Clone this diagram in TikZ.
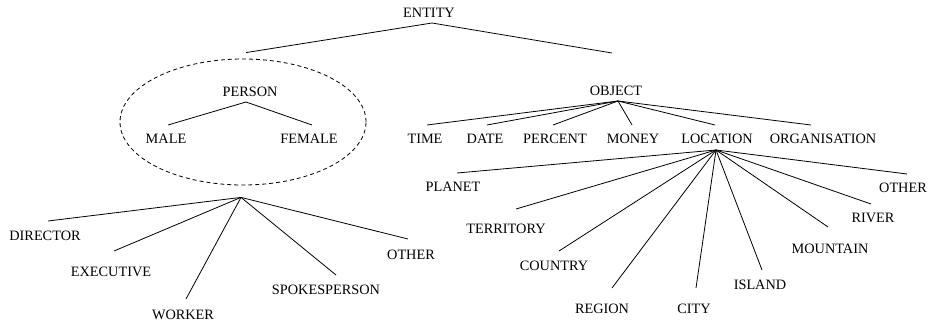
\documentclass[tikz,border=0pt]{standalone}
\usepackage{fontspec}
\setmainfont{Liberation Serif}
\usetikzlibrary{shapes.geometric}
\begin{document}
\begin{tikzpicture}[x=1pt,y=1pt,
  lbl/.style={inner sep=0pt, anchor=base, font=\fontsize{14.3pt}{16pt}\selectfont},
  link/.style={line width=0.8pt},
  grp/.style={ellipse, draw, dashed, dash pattern=on 4pt off 3pt, line width=0.8pt,
              minimum width=246pt, minimum height=126pt, inner sep=0pt}]
\useasboundingbox (0,0) rectangle (928,324);

% top level
\node[lbl] (entity) at (429,306) {ENTITY};
\node[grp] (group) at (243,202) {};
\node[lbl] (person) at (250,227) {PERSON};
\node[lbl] (object) at (616,228) {OBJECT};

% second level
\node[lbl] (male) at (166,180) {MALE};
\node[lbl] (female) at (309,180) {FEMALE};
\node[lbl] (time) at (425,180) {TIME};
\node[lbl] (date) at (485,180) {DATE};
\node[lbl] (percent) at (555,180) {PERCENT};
\node[lbl] (money) at (633,180) {MONEY};
\node[lbl] (location) at (717,180) {LOCATION};
\node[lbl] (organisation) at (823,180) {ORGANISATION};

% person roles
\node[lbl] (director) at (45,84) {DIRECTOR};
\node[lbl] (executive) at (111,48) {EXECUTIVE};
\node[lbl] (worker) at (183,5) {WORKER};
\node[lbl] (spokesperson) at (326,30) {SPOKESPERSON};
\node[lbl] (otherp) at (411,65) {OTHER};

% location kinds
\node[lbl] (planet) at (453,132) {PLANET};
\node[lbl] (territory) at (506,90) {TERRITORY};
\node[lbl] (country) at (554,54) {COUNTRY};
\node[lbl] (region) at (602,11) {REGION};
\node[lbl] (city) at (694,11) {CITY};
\node[lbl] (island) at (760,35) {ISLAND};
\node[lbl] (mountain) at (830,71) {MOUNTAIN};
\node[lbl] (river) at (873,101) {RIVER};
\node[lbl] (otherl) at (903,131) {OTHER};

% branching points
\coordinate (ea) at ([shift={(3pt,-5pt)}]entity.base);
\coordinate (pa) at ([shift={(-4pt,-5pt)}]person.base);
\coordinate (oa) at ([shift={(2pt,-5pt)}]object.base);
\coordinate (la) at ([shift={(-1pt,-6pt)}]location.base);
\coordinate (ga) at ([shift={(-2pt,-12pt)}]group.south);
\coordinate (gtop) at ([shift={(3pt,6pt)}]group.north);
\coordinate (otop) at (612,271);

% connectors
\draw[link] (gtop) -- (ea) -- (otop);
\draw[link] (pa) -- ([shift={(2pt,19pt)}]male.base);
\draw[link] (pa) -- ([shift={(3pt,19pt)}]female.base);

\foreach \n/\dx in {time/2, date/2, percent/-2, money/-1, location/-2, organisation/-12}
  \draw[link] (oa) -- ([shift={(\dx pt,19pt)}]\n.base);

\foreach \n/\dx/\dy in {director/3/19, executive/3/25, worker/3/20, spokesperson/10/19, otherp/-3/20}
  \draw[link] (ga) -- ([shift={(\dx pt,\dy pt)}]\n.base);

\foreach \n/\dx/\dy in {planet/4/19, territory/10/25, country/5/19, region/10/25, city/2/25,
                        island/2/19, mountain/-2/26, river/-2/19, otherl/4/19}
  \draw[link] (la) -- ([shift={(\dx pt,\dy pt)}]\n.base);
\end{tikzpicture}
\end{document}
